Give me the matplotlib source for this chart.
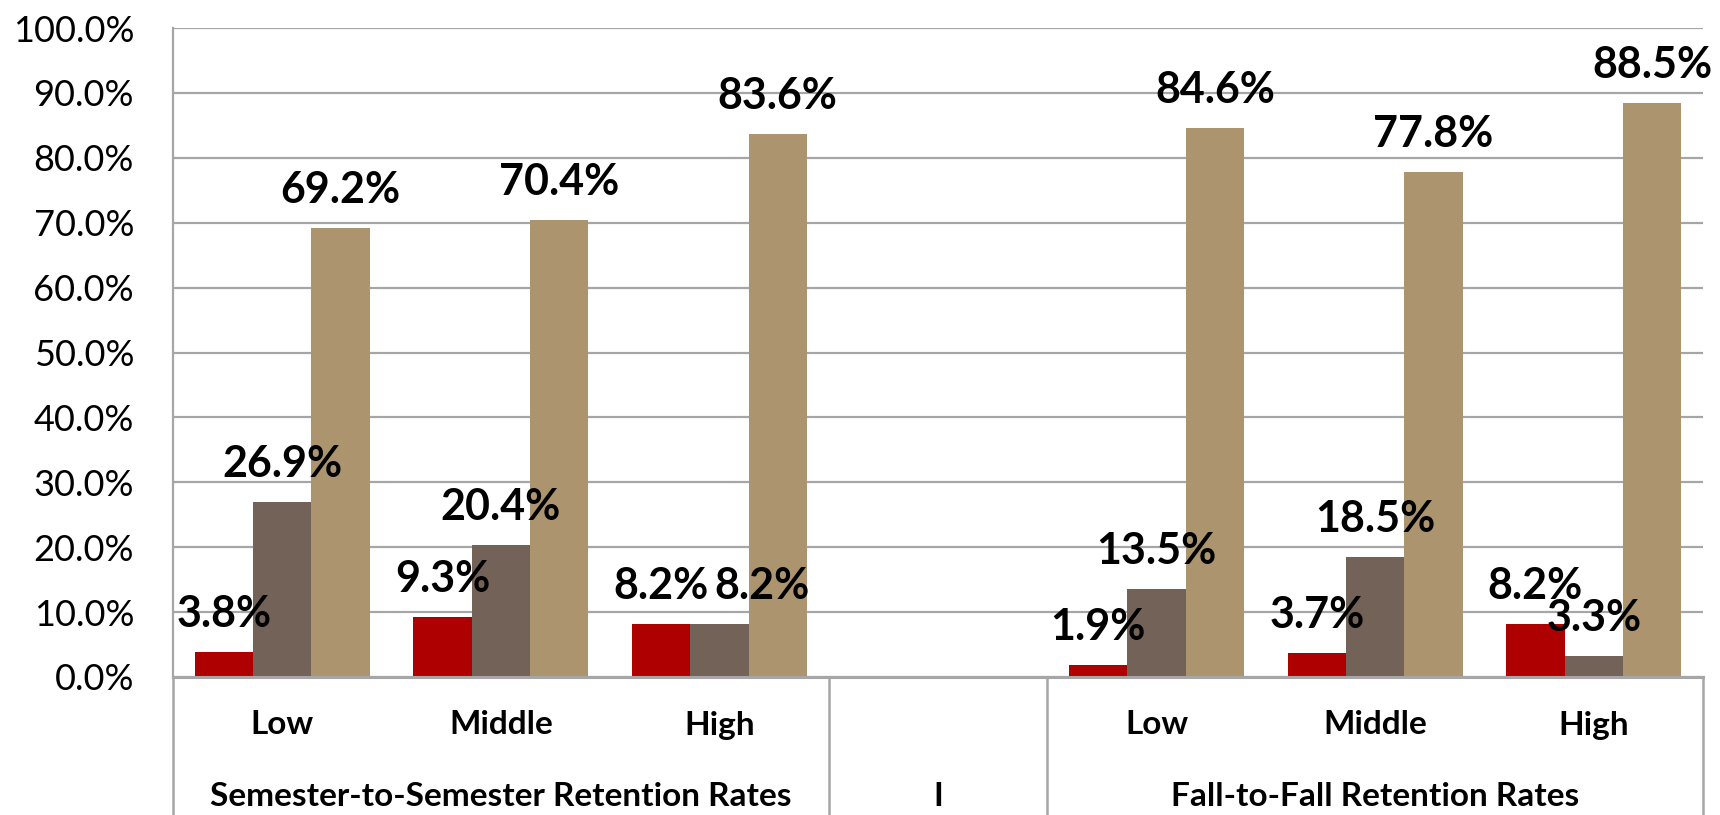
import numpy as np
import matplotlib
matplotlib.use("Agg")
import matplotlib.pyplot as plt
from matplotlib.transforms import blended_transform_factory

plt.rcParams["font.family"] = ["Lato", "DejaVu Sans"]

# categories along the x axis (the middle one is an empty spacer)
levels = ["Low", "Middle", "High", "", "Low", "Middle", "High"]
groups = ["Semester-to-Semester Retention Rates", "I", "Fall-to-Fall Retention Rates"]
group_spans = [(0, 2), (3, 3), (4, 6)]

# three series, values in percent (None = no bar)
red_vals = [3.8, 9.3, 8.2, None, 1.9, 3.7, 8.2]
brown_vals = [26.9, 20.4, 8.2, None, 13.5, 18.5, 3.3]
tan_vals = [69.2, 70.4, 83.6, None, 84.6, 77.8, 88.5]

colors = ["#AE0000", "#736257", "#AC946F"]
grid_color = "#A6A6A6"
# the original nudges one label sideways so the two 8.2% labels don't collide
label_dx = {(1, 2): 31}

fig = plt.figure(figsize=(17.2, 8.15), dpi=100)
ax = fig.add_axes([173 / 1720, 138 / 815, 1530 / 1720, 649 / 815])

x = np.arange(len(levels))
w = 0.8 / 3
for k, vals in enumerate([red_vals, brown_vals, tan_vals]):
    idx = [i for i, v in enumerate(vals) if v is not None]
    xs = [x[i] + (k - 1) * w for i in idx]
    vs = [vals[i] for i in idx]
    ax.bar(xs, vs, width=w, color=colors[k], zorder=3)
    for i, xi, v in zip(idx, xs, vs):
        dx = label_dx.get((k, i), 0)
        ax.annotate(f"{v:.1f}%", (xi, v), xytext=(dx, 18), textcoords="offset points",
                    ha="center", va="baseline", fontsize=31, fontweight="bold", zorder=5)

ax.set_xlim(-0.5, len(levels) - 0.5)
ax.set_ylim(0, 100)
ax.set_yticks(np.arange(0, 101, 10))
ax.set_yticklabels([f"{t:.1f}%" for t in np.arange(0, 101, 10)], fontsize=26)
ax.tick_params(axis="y", length=0, pad=28)
ax.set_xticks([])
ax.yaxis.grid(True, color=grid_color, linewidth=1.6, zorder=0)
ax.set_axisbelow(True)

for side in ["top", "right"]:
    ax.spines[side].set_visible(False)
ax.spines["left"].set_color(grid_color)
ax.spines["left"].set_linewidth(1.6)
ax.spines["bottom"].set_color(grid_color)
ax.spines["bottom"].set_linewidth(2.2)
ax.spines["bottom"].set_zorder(4)

# multi-level category axis below the plot
trans = blended_transform_factory(ax.transData, ax.transAxes)
bottom = -138 / 649
for xb in [-0.5, 2.5, 3.5, 6.5]:
    ax.plot([xb, xb], [0, bottom], transform=trans, color=grid_color,
            linewidth=1.8, clip_on=False)

for xi, lab in zip(x, levels):
    ax.text(xi, -48 / 649, lab, transform=trans, ha="center", va="center",
            fontsize=24, fontweight="bold")

for (a, b), g in zip(group_spans, groups):
    ax.text((a + b) / 2, -120 / 649, g, transform=trans, ha="center", va="center",
            fontsize=24, fontweight="bold")

fig.savefig("out.png", dpi=100)
